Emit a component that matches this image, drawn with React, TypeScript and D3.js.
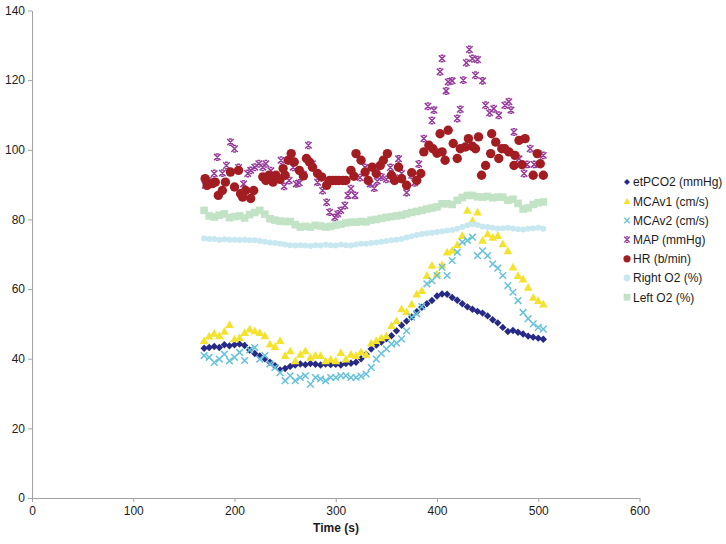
import { useEffect, useRef } from 'react';
import * as d3 from 'd3';

// sample times (s) shared by the dense series
const times = [170, 175, 180, 185, 190, 195, 200, 205, 210, 215, 220, 225, 230, 235, 240, 245, 250, 255, 260, 265,
  270, 275, 280, 285, 290, 295, 300, 305, 310, 315, 320, 325, 330, 335, 340, 345, 350, 355, 360, 365,
  370, 375, 380, 385, 390, 395, 400, 405, 410, 415, 420, 425, 430, 435, 440, 445, 450, 455, 460, 465,
  470, 475, 480, 485, 490, 495, 500, 505];

const etPCO2 = [43, 43.2, 43.5, 43.2, 44, 43.7, 44, 44.2, 43.8, 42.5, 41.5, 40.8, 40, 39, 38, 36.8, 37.2, 37.8, 38.2, 38.5,
  38.3, 38.6, 38.4, 38.2, 38.5, 38.3, 38.4, 38.2, 38.6, 38.7, 39, 40, 41.3, 42.8, 43.9, 44.8, 45.7, 46.6, 48, 49.6,
  50.8, 52, 53.5, 54.8, 55.8, 56.7, 58, 58.6, 58.5, 57.6, 56.8, 55.8, 54.9, 54.2, 53.6, 53.1, 52.3, 51.2, 50.3, 49,
  47.8, 48.1, 47.6, 47.1, 46.5, 46.2, 45.9, 45.6];

const mcav1 = [45.2, 46.5, 47.3, 46.6, 47.9, 49.8, 45.7, 46.1, 47.5, 48.5, 48, 47.5, 46.6, 44.2, 43.5, 45.2, 40.9, 42.3, 39.4, 41.3,
  42.3, 40.4, 41, 40.9, 39.4, 39.8, 39.4, 41.8, 39.9, 41.3, 40.9, 42, 41.3, 44.5, 45.2, 46, 46.6, 49.5, 50.9, 54.3,
  53.5, 55.7, 58.6, 59.6, 63.9, 66.8, 64.4, 67, 70.6, 71.1, 72.8, 75.4, 82.6, 79.7, 82.1, 74, 75.9, 74.9, 75.4, 73,
  71, 66.3, 63.9, 62.9, 60.5, 57.6, 56.7, 55.7];

const mcav2 = [40.9, 40.4, 38.9, 39.9, 41.3, 39.4, 40.4, 41.8, 39.5, 42.5, 43.2, 39.9, 40.9, 38.5, 37.5, 36, 33.7, 35.1, 33.7, 34.6,
  35.1, 32.7, 34.6, 34.2, 33.7, 34.6, 34.6, 35.1, 35.1, 34.6, 34.6, 35, 35.6, 37.5, 39.9, 41.5, 42.8, 44.2, 44.5, 45.7,
  48, 51.9, 52.9, 55, 61.5, 62.4, 63.9, 66.3, 63.9, 68.2, 70.6, 73.5, 74, 74.9, 69.6, 71, 69.6, 67.2, 66, 63.9,
  61, 59.1, 56.7, 53.3, 51.5, 50, 49, 48.5];

const rightO2 = [74.5, 74.4, 74.4, 74.2, 74.3, 74.2, 74.2, 74.1, 74.2, 74, 74, 73.8, 73.6, 73.4, 73.2, 73, 72.8, 72.6, 72.5, 72.6,
  72.5, 72.4, 72.6, 72.5, 72.7, 72.6, 72.5, 72.8, 72.6, 72.5, 72.8, 73, 73, 73.2, 73.4, 73.6, 73.8, 74, 74.2, 74.4,
  74.8, 75.2, 75.5, 75.8, 76, 76.2, 76.4, 76.6, 76.8, 77, 77.3, 77.8, 78.3, 78.6, 78.4, 78, 77.8, 77.6, 77.4, 77.5,
  77.6, 77.4, 77.2, 77.1, 77.3, 77.5, 77.6, 77.3];

const leftO2 = [82.6, 81, 80.7, 81.2, 81.6, 80.5, 80.8, 81, 80.4, 81.4, 82, 82.6, 81.5, 80.2, 79.8, 79.5, 79.4, 79.4, 78.5, 77.8,
  78, 77.8, 78.3, 78.1, 77.8, 78, 78.4, 78.6, 79, 79.2, 79.2, 79.4, 79.3, 79.8, 80, 80.3, 80.6, 80.8, 81, 81.2,
  81.6, 82, 82.3, 82.6, 83, 83.3, 83.6, 84.5, 84.5, 84.3, 85.5, 86.3, 86.9, 86.9, 86.5, 86.4, 86.6, 86.2, 86.4, 86.4,
  85.5, 85.8, 84.6, 83, 83.3, 84.3, 84.8, 85];

// MAP and HR were sampled on their own, irregular times
const mapTimes = [171, 176, 180, 183, 188, 192, 196, 200, 204, 209, 213, 216, 220, 224, 228, 231, 236, 241, 246, 249,
  254, 258, 261, 264, 268, 273, 277, 282, 287, 291, 294, 299, 302, 305, 309, 312, 315, 319, 324, 329,
  334, 338, 341, 345, 350, 354, 358, 362, 365, 370, 375, 378, 382, 387, 391, 395, 397, 403, 405, 409,
  411, 415, 420, 423, 426, 429, 432, 435, 438, 440, 445, 448, 452, 456, 461, 467, 471, 473, 476, 481,
  486, 489, 492, 496, 500, 505];
const map = [89.8, 91, 93.2, 97.9, 93.3, 95.5, 102.2, 100.3, 94.9, 90.2, 93.2, 94.1, 95, 96, 95, 96, 94, 92.5, 97, 89.5,
  91.2, 95, 90.2, 90.5, 93, 101.3, 96, 90.7, 88.3, 84.9, 82.1, 80.6, 81.6, 82.6, 84, 86.9, 88.8, 86.9, 92, 94.9,
  90.2, 89, 91, 92.2, 91.5, 94.9, 92, 97.4, 93.2, 87.7, 92.7, 90.5, 95.9, 103.2, 112.5, 108.4, 111.4, 122.4, 126.2, 116.9,
  119.5, 119.8, 109, 111.6, 120, 125, 128.8, 126.2, 121.4, 125.9, 119.8, 112.8, 110.6, 111.8, 109.9, 112.8, 113.8, 111.4, 105.1, 97.4,
  93.2, 95.8, 100.3, 95.8, 98.9, 98.4];

const hrTimes = [171, 173, 178, 181, 184, 188, 191, 196, 200, 204, 206, 208, 211, 216, 219, 228, 231, 234, 238, 241,
  245, 248, 250, 253, 256, 259, 264, 268, 271, 274, 277, 282, 286, 291, 294, 297, 300, 303, 307, 310,
  315, 318, 320, 325, 329, 332, 336, 340, 344, 347, 351, 355, 358, 362, 365, 370, 375, 380, 384, 387,
  392, 396, 400, 403, 405, 408, 411, 416, 420, 423, 428, 431, 435, 438, 441, 444, 448, 453, 454, 458,
  461, 464, 467, 471, 476, 477, 481, 484, 487, 495, 499, 502, 505];
const hr = [91.7, 89.8, 90.3, 90.7, 86.9, 88.3, 90.7, 93.6, 89.3, 94.1, 87.4, 86.4, 88.3, 86, 88.3, 92.2, 91.2, 92.7, 90.7, 92.7,
  91.5, 94.6, 92.7, 97, 98.9, 96.5, 94.1, 92.5, 97.5, 96.5, 95, 93.2, 92.2, 89.8, 91.2, 91.2, 91.2, 91.2, 91.2, 91.2,
  94.1, 92.4, 98.9, 97, 93.6, 91.2, 95, 93.2, 95.5, 97, 98.9, 92.7, 91.2, 95, 91.7, 89.8, 93.4, 91.2, 93.2, 99.4,
  101.3, 100.3, 99, 104.6, 99.4, 97, 105.6, 101.8, 97.5, 100.3, 100.8, 103.2, 101, 100.3, 103.7, 92.7, 95.5, 98.9, 104.6, 102.2,
  97.5, 100.3, 100.3, 99.4, 95.5, 98.4, 102.7, 95.7, 103.2, 92.7, 98.9, 96, 92.7];

const xTicks = [0, 100, 200, 300, 400, 500, 600];
const yTicks = [0, 20, 40, 60, 80, 100, 120, 140];

type Marker = 'diamond' | 'triangle' | 'x' | 'star' | 'circle' | 'dot' | 'square';

const series: { name: string; color: string; marker: Marker; t: number[]; v: number[] }[] = [
  { name: 'etPCO2 (mmHg)', color: '#262a86', marker: 'diamond', t: times, v: etPCO2 },
  { name: 'MCAv1 (cm/s)', color: '#f3e32e', marker: 'triangle', t: times, v: mcav1 },
  { name: 'MCAv2 (cm/s)', color: '#66c2da', marker: 'x', t: times, v: mcav2 },
  { name: 'MAP (mmHg)', color: '#963a9b', marker: 'star', t: mapTimes, v: map },
  { name: 'HR (b/min)', color: '#a21d22', marker: 'circle', t: hrTimes, v: hr },
  { name: 'Right O2 (%)', color: '#c7e8f0', marker: 'dot', t: times, v: rightO2 },
  { name: 'Left O2 (%)', color: '#c2e3c5', marker: 'square', t: times, v: leftO2 },
];

const FONT = '"Liberation Sans", Arial, Helvetica, sans-serif';

function markerPath(kind: Marker, s: number): string {
  switch (kind) {
    case 'diamond':
      return `M0,${-s}L${s},0L0,${s}L${-s},0Z`;
    case 'triangle':
      return `M0,${-s}L${s},${s * 0.8}L${-s},${s * 0.8}Z`;
    case 'square':
      return `M${-s},${-s}H${s}V${s}H${-s}Z`;
    case 'x':
      return `M${-s},${-s}L${s},${s}M${-s},${s}L${s},${-s}`;
    case 'star': {
      // x with short serifs top and bottom
      const b = s * 0.45;
      return `M${-s},${-s}L${s},${s}M${-s},${s}L${s},${-s}M${-b},${-s}H${b}M${-b},${s}H${b}`;
    }
    default: {
      const r = s;
      return `M${r},0A${r},${r} 0 1,1 ${-r},0A${r},${r} 0 1,1 ${r},0Z`;
    }
  }
}

const plotSize: Record<Marker, number> = {
  diamond: 3.7, triangle: 4.3, x: 3.3, star: 3.2, circle: 4.7, dot: 3, square: 3.8,
};
const legendSize: Record<Marker, number> = {
  diamond: 3, triangle: 3.4, x: 2.8, star: 2.8, circle: 3.6, dot: 3.4, square: 3.4,
};
const stroked = (m: Marker) => m === 'x' || m === 'star';

export default function App() {
  const ref = useRef<SVGSVGElement | null>(null);

  useEffect(() => {
    if (!ref.current) return;
    const svg = d3.select(ref.current);
    svg.selectAll('*').remove();

    const x = d3.scaleLinear().domain([0, 600]).range([32, 639.5]);
    const y = d3.scaleLinear().domain([0, 140]).range([498, 10.5]);

    // axes
    const yAxis = svg.append('g')
      .attr('transform', `translate(${x(0)},0)`)
      .call(d3.axisLeft(y).tickValues(yTicks).tickSize(4).tickPadding(3).tickSizeOuter(0));
    const xAxis = svg.append('g')
      .attr('transform', `translate(0,${y(0)})`)
      .call(d3.axisBottom(x).tickValues(xTicks).tickSize(4).tickPadding(4).tickSizeOuter(0));
    [yAxis, xAxis].forEach(g => {
      g.selectAll('path, line').attr('stroke', '#a3a3a3');
      g.selectAll('text')
        .attr('fill', '#1c1c1c')
        .style('font-family', FONT)
        .style('font-size', '12px');
    });

    svg.append('text')
      .attr('x', 336)
      .attr('y', 532)
      .attr('text-anchor', 'middle')
      .style('font-family', FONT)
      .style('font-size', '12px')
      .style('font-weight', 'bold')
      .attr('fill', '#1c1c1c')
      .text('Time (s)');

    // data series, drawn in order
    series.forEach(s => {
      const pts = s.t.map((t, i) => [t, s.v[i]] as [number, number]);
      const g = svg.append('g');
      g.selectAll('path')
        .data(pts)
        .enter()
        .append('path')
        .attr('transform', d => `translate(${x(d[0])},${y(d[1])})`)
        .attr('d', markerPath(s.marker, plotSize[s.marker]))
        .attr('fill', stroked(s.marker) ? 'none' : s.color)
        .attr('stroke', stroked(s.marker) ? s.color : 'none')
        .attr('stroke-width', stroked(s.marker) ? 1.5 : 0);
    });

    // legend
    const legend = svg.append('g').attr('transform', 'translate(627,182)');
    series.forEach((s, i) => {
      const row = legend.append('g').attr('transform', `translate(0,${i * 19.2})`);
      row.append('path')
        .attr('d', markerPath(s.marker, legendSize[s.marker]))
        .attr('fill', stroked(s.marker) ? 'none' : s.color)
        .attr('stroke', stroked(s.marker) ? s.color : 'none')
        .attr('stroke-width', stroked(s.marker) ? 1.3 : 0);
      row.append('text')
        .attr('x', 6)
        .attr('y', 4.3)
        .style('font-family', FONT)
        .style('font-size', '12px')
        .attr('fill', '#1c1c1c')
        .text(s.name);
    });
  }, []);

  return (
    <div style={{ position: 'absolute', left: 0, top: 0 }}>
      <svg ref={ref} width={726} height={544} style={{ display: 'block', background: '#fff' }} />
    </div>
  );
}
